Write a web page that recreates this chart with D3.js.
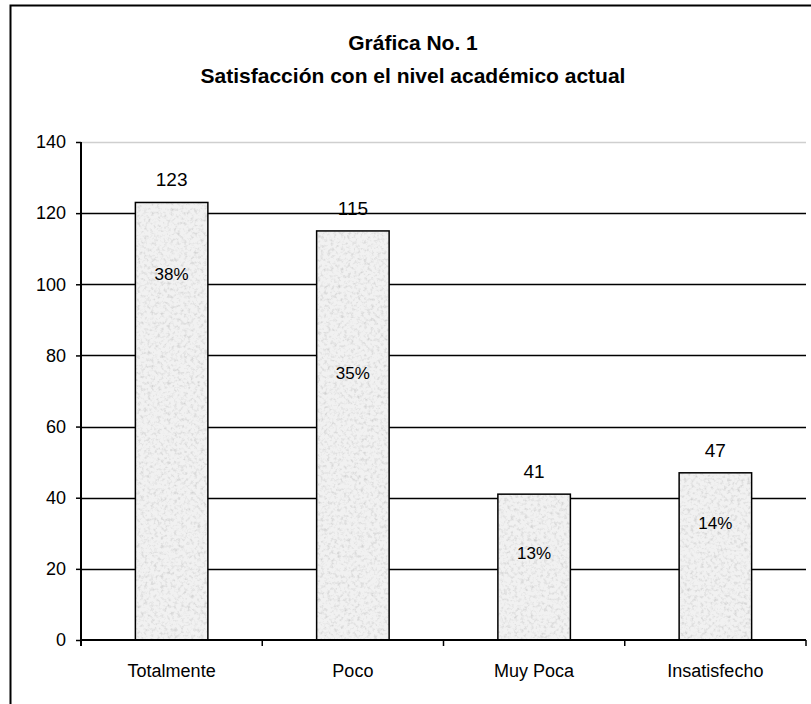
<!DOCTYPE html>
<html lang="es">
<meta charset="utf-8">
<style>
  body { margin: 0; background: #fff; }
  text { font-family: "Liberation Sans", Arial, sans-serif; fill: #000; }
</style>
<script src="https://d3js.org/d3.v7.min.js"></script>
<body>
<div id="chart"></div>
<script>
// data
const categories = ["Totalmente", "Poco", "Muy Poca", "Insatisfecho"]
const counts = [123, 115, 41, 47]
const percents = ["38%", "35%", "13%", "14%"]
// where the % labels sit, in axis units
const percentAt = [103, 75, 24.5, 33]
const yTicks = [0, 20, 40, 60, 80, 100, 120, 140]

const W = 811, H = 704
const MARGIN = { LEFT: 81, RIGHT: 5, TOP: 142, BOTTOM: 64 }
const WIDTH = W - MARGIN.LEFT - MARGIN.RIGHT
const HEIGHT = H - MARGIN.TOP - MARGIN.BOTTOM

const svg = d3.select("#chart").append("svg")
  .attr("width", W)
  .attr("height", H)

// granite-ish fill for the bars
const defs = svg.append("defs")
const f = defs.append("filter").attr("id", "granite")
  .attr("x", 0).attr("y", 0).attr("width", 1).attr("height", 1)
f.append("feTurbulence")
  .attr("type", "fractalNoise")
  .attr("baseFrequency", 0.3)
  .attr("numOctaves", 3)
  .attr("seed", 7)
  .attr("result", "noise")
f.append("feColorMatrix").attr("in", "noise").attr("type", "matrix")
  .attr("values", "0 0 0 0 0.62  0 0 0 0 0.62  0 0 0 0 0.62  2.2 0 0 0 -1.05")
  .attr("result", "spots")
f.append("feComposite").attr("in", "spots").attr("in2", "SourceGraphic")
  .attr("operator", "in").attr("result", "clipped")
const merge = f.append("feMerge")
merge.append("feMergeNode").attr("in", "SourceGraphic")
merge.append("feMergeNode").attr("in", "clipped")

// outer chart frame (runs off right and bottom)
svg.append("rect")
  .attr("x", 10.5).attr("y", 5.5)
  .attr("width", 830).attr("height", 740)
  .attr("fill", "#fff")
  .attr("stroke", "#000")
  .attr("stroke-width", 2)

// title
svg.append("text")
  .attr("x", 413).attr("y", 50)
  .attr("text-anchor", "middle")
  .style("font-size", "21px").style("font-weight", "bold")
  .text("Gráfica No. 1")
svg.append("text")
  .attr("x", 413).attr("y", 83)
  .attr("text-anchor", "middle")
  .style("font-size", "21px").style("font-weight", "bold")
  .text("Satisfacción con el nivel académico actual")

const g = svg.append("g")
  .attr("transform", `translate(${MARGIN.LEFT}, ${MARGIN.TOP})`)

// scales
const x = d3.scaleBand().domain(categories).range([0, WIDTH]).paddingInner(0.6).paddingOuter(0.3)
const xTickScale = d3.scaleLinear().domain([0, categories.length]).range([0, WIDTH])
const y = d3.scaleLinear().domain([0, 140]).range([HEIGHT, 0])

// gridlines
g.selectAll(".grid").data(yTicks.filter(d => d > 0)).join("line")
  .attr("class", "grid")
  .attr("x1", 0).attr("x2", WIDTH)
  .attr("y1", d => Math.round(y(d)) + 0.5).attr("y2", d => Math.round(y(d)) + 0.5)
  .attr("stroke", d => d === 140 ? "#cfcfcf" : "#000")
  .attr("stroke-width", d => d === 140 ? 1.5 : 1.3)

// bars
const bars = g.selectAll(".bar").data(categories.map((c, i) => ({ c, v: counts[i], p: percents[i], pa: percentAt[i] })))
  .join("g").attr("class", "bar")

bars.append("rect")
  .attr("x", d => x(d.c))
  .attr("y", d => y(d.v))
  .attr("width", x.bandwidth())
  .attr("height", d => HEIGHT - y(d.v))
  .attr("fill", "#f1f1f1")
  .attr("filter", "url(#granite)")
bars.append("rect")
  .attr("x", d => x(d.c))
  .attr("y", d => y(d.v))
  .attr("width", x.bandwidth())
  .attr("height", d => HEIGHT - y(d.v))
  .attr("fill", "none")
  .attr("stroke", "#000")
  .attr("stroke-width", 1.5)

// value labels
bars.append("text")
  .attr("x", d => x(d.c) + x.bandwidth() / 2)
  .attr("y", d => y(d.v) - 16)
  .attr("text-anchor", "middle")
  .style("font-size", "19px")
  .text(d => d.v)

// percent labels
bars.append("text")
  .attr("x", d => x(d.c) + x.bandwidth() / 2)
  .attr("y", d => y(d.pa) + 6)
  .attr("text-anchor", "middle")
  .style("font-size", "17px")
  .text(d => d.p)

// y axis
const yAxis = g.append("g")
  .call(d3.axisLeft(y).tickValues(yTicks).tickSize(5).tickPadding(10))
yAxis.select(".domain").attr("stroke", "#000").attr("stroke-width", 2)
  .attr("d", `M0,0V${HEIGHT + 6}`)
yAxis.selectAll(".tick line").attr("stroke", "#000").attr("stroke-width", 1.5)
yAxis.selectAll("text").style("font-size", "18px").attr("font-family", null)

// x axis
const xAxis = g.append("g").attr("transform", `translate(0, ${HEIGHT})`)
xAxis.append("line")
  .attr("x1", 0).attr("x2", WIDTH)
  .attr("stroke", "#000").attr("stroke-width", 2)
xAxis.selectAll(".xt").data(d3.range(categories.length + 1)).join("line")
  .attr("class", "xt")
  .attr("x1", d => xTickScale(d)).attr("x2", d => xTickScale(d))
  .attr("y1", 0).attr("y2", 6)
  .attr("stroke", "#000").attr("stroke-width", 1.5)
xAxis.selectAll(".xl").data(categories).join("text")
  .attr("class", "xl")
  .attr("x", d => x(d) + x.bandwidth() / 2)
  .attr("y", 37)
  .attr("text-anchor", "middle")
  .style("font-size", "18px")
  .text(d => d)
</script>
</body>
</html>
